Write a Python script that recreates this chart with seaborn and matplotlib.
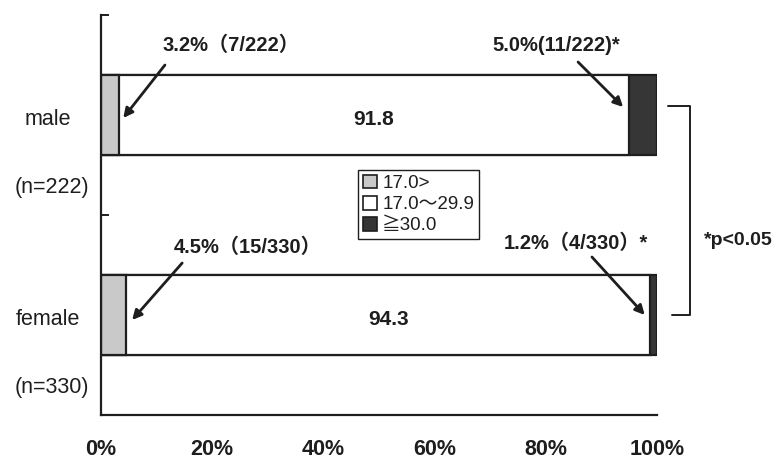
import matplotlib
matplotlib.use("Agg")
import matplotlib.pyplot as plt
import matplotlib.patches as mpatches
import seaborn as sns
import pandas as pd
import numpy as np

# BMI category shares (%) by sex
groups = ["male", "female"]
group_n = ["(n=222)", "(n=330)"]
low_bmi = [3.2, 4.5]        # 17.0>
mid_bmi = [91.8, 94.3]      # 17.0~29.9
high_bmi = [5.0, 1.2]       # >=30.0
category_labels = ["17.0>", "17.0～29.9", "≧30.0"]
x_ticks = [0, 20, 40, 60, 80, 100]
x_tick_labels = ["0%", "20%", "40%", "60%", "80%", "100%"]
callouts = ["3.2%（7/222）", "5.0%(11/222)*", "4.5%（15/330）", "1.2%（4/330）*"]
sig_note = "*p<0.05"

sns.set_theme(style="white")
FONT = ["Liberation Sans", "Noto Sans CJK JP", "DejaVu Sans"]
plt.rcParams["font.family"] = FONT
INK = "#1e1e1e"

df = pd.DataFrame({"group": groups, "low": low_bmi, "mid": mid_bmi, "high": high_bmi})
df["cum_low"] = df["low"]
df["cum_mid"] = df["low"] + df["mid"]
df["cum_high"] = df["low"] + df["mid"] + df["high"]

fig = plt.figure(figsize=(7.78, 4.62), dpi=100)
ax = fig.add_axes([0.1298, 0.1017, 0.7147, 0.8658])

colors = {"cum_high": "#363636", "cum_mid": "#ffffff", "cum_low": "#c9c9c9"}
for col in ["cum_high", "cum_mid", "cum_low"]:
    sns.barplot(data=df, x=col, y="group", orient="h", color=colors[col],
                saturation=1, edgecolor=INK, linewidth=1.6, width=0.4, ax=ax)

ax.set_xlim(0, 100)
ax.set_ylim(1.5, -0.5)
ax.set_xlabel("")
ax.set_ylabel("")
for s in ["top", "right"]:
    ax.spines[s].set_visible(False)
for s in ["left", "bottom"]:
    ax.spines[s].set_color(INK)
    ax.spines[s].set_linewidth(1.6)

ax.set_xticks(x_ticks)
ax.set_xticklabels(x_tick_labels, fontsize=15.5, fontweight="bold", color=INK)
ax.tick_params(axis="x", direction="in", length=6, width=1.4, color=INK, pad=17)
ax.set_yticks([])
ax.set_yticks([-0.5, 0.5], minor=True)
ax.tick_params(axis="y", which="minor", direction="in", length=6, width=1.4, color=INK, left=True)

# Group labels on the left
for i, (g, n) in enumerate(zip(groups, group_n)):
    ax.text(-9.6, i + 0.02, g, ha="center", va="center", fontsize=15.5, color=INK, clip_on=False)
    ax.text(-8.9, i + 0.36, n, ha="center", va="center", fontsize=15.5, color=INK, clip_on=False)

# Middle segment values
for i, row in df.iterrows():
    ax.text(row["low"] + row["mid"] / 2, i + 0.02, f"{row['mid']:.1f}", ha="center",
            va="center", fontsize=15, fontweight="bold", color=INK)

# Callouts with arrows
arrow_kw = dict(arrowstyle="-|>", color=INK, lw=2, mutation_scale=14, shrinkA=0, shrinkB=0)
specs = [
    (callouts[0], (23.4, -0.35), (11.5, -0.25), (4.0, 0.015)),
    (callouts[1], (81.8, -0.35), (85.8, -0.265), (93.9, -0.04)),
    (callouts[2], (26.3, 0.66), (14.6, 0.74), (5.6, 1.025)),
    (callouts[3], (85.4, 0.64), (88.3, 0.71), (97.8, 1.0)),
]
for txt, tpos, start, end in specs:
    ax.text(tpos[0], tpos[1], txt, ha="center", va="center", fontsize=14.5,
            fontweight="bold", color=INK, clip_on=False)
    ax.annotate("", xy=end, xytext=start, arrowprops=arrow_kw, annotation_clip=False)

# Significance bracket
ax.plot([102.0, 105.9, 105.9, 102.7], [-0.045, -0.045, 1.0, 1.0], color=INK, lw=1.4,
        clip_on=False)
ax.text(108.5, 0.625, sig_note, ha="left", va="center", fontsize=14, fontweight="bold",
        color=INK, clip_on=False)

# Legend
handles = [mpatches.Patch(facecolor=c, edgecolor=INK, linewidth=1.2, label=l)
           for c, l in zip(["#c9c9c9", "#ffffff", "#363636"], category_labels)]
leg = ax.legend(handles=handles, loc="upper left", bbox_to_anchor=(0.462, 0.6125),
                fontsize=13.5, frameon=True, fancybox=False, framealpha=1,
                edgecolor=INK, handlelength=0.75, handleheight=0.75, handletextpad=0.3,
                borderpad=0.25, labelspacing=0.2, borderaxespad=0)
leg.get_frame().set_linewidth(1.0)
for t in leg.get_texts():
    t.set_color(INK)

fig.savefig("out.png", dpi=100, facecolor="white")
